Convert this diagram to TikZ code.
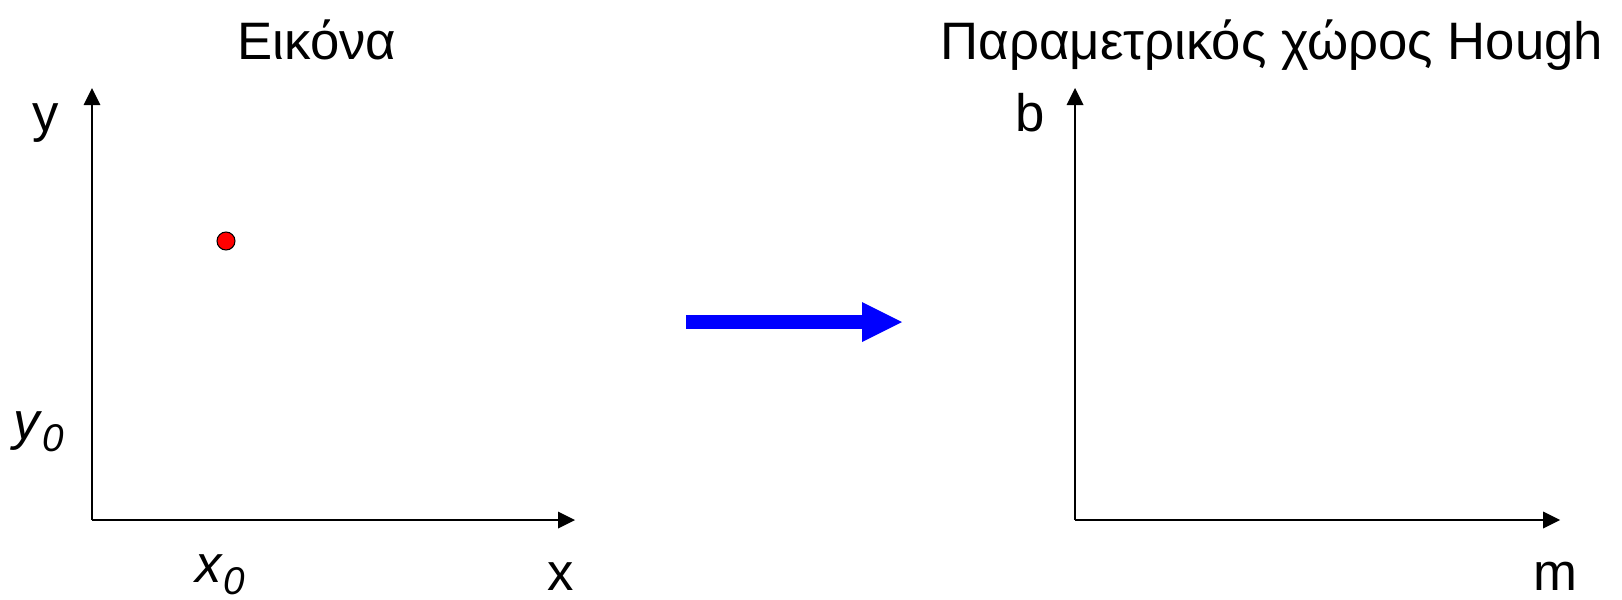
\documentclass[tikz,border=0pt]{standalone}
\usepackage{fontspec}
\setmainfont{Liberation Sans}
\usetikzlibrary{arrows.meta,positioning}
\newcommand{\lowsub}[1]{\raisebox{-0.24cm}{\fontsize{22}{26}\selectfont\itshape #1}}

\begin{document}
\begin{tikzpicture}[x=0.02cm,y=-0.02cm,>=Triangle,
  axis/.style={line width=1.6pt,-{Triangle[length=0.34cm,width=0.34cm,line width=0pt]}},
  lbl/.style={font=\fontsize{30}{36}\selectfont,inner sep=0pt,anchor=base}]
\useasboundingbox (0,0) rectangle (1622,599);
% image space
\coordinate (o1) at (92,520);
\coordinate (x1) at (575,520);
\coordinate (y1) at (92,88);
\draw[axis] (o1) -- (x1);
\draw[axis] (o1) -- (y1);
\node[lbl] (imgtitle) at (317,59) {Εικόνα};
\node[lbl] (ylab) at (46,131) {y};
\node[lbl] (xlab) at (561,590) {x};
\node[lbl,anchor=base west] (y0lab) at (13,439) {\textit{y}\lowsub{0}};
\node[lbl,anchor=base west] (x0lab) at (195,582) {\textit{x}\lowsub{0}};
\node[draw=black,fill=red,circle,minimum size=0.36cm,inner sep=0pt,line width=0.6pt] (pt) at (226,241) {};
% mapping arrow
\coordinate (mapS) at (686,322);
\coordinate (mapE) at (902,322);
\draw[blue,line width=0.28cm,-{Triangle[length=0.8cm,width=0.8cm,line width=0pt]}] (mapS) -- (mapE);
% Hough space
\coordinate (o2) at (1075,520);
\coordinate (x2) at (1560,520);
\coordinate (y2) at (1075,88);
\draw[axis] (o2) -- (x2);
\draw[axis] (o2) -- (y2);
\node[lbl] (houghtitle) at (1272,59) {Παραμετρικός χώρος Hough};
\node[lbl] (blab) at (1030,131) {b};
\node[lbl] (mlab) at (1555,590) {m};
\end{tikzpicture}
\end{document}
